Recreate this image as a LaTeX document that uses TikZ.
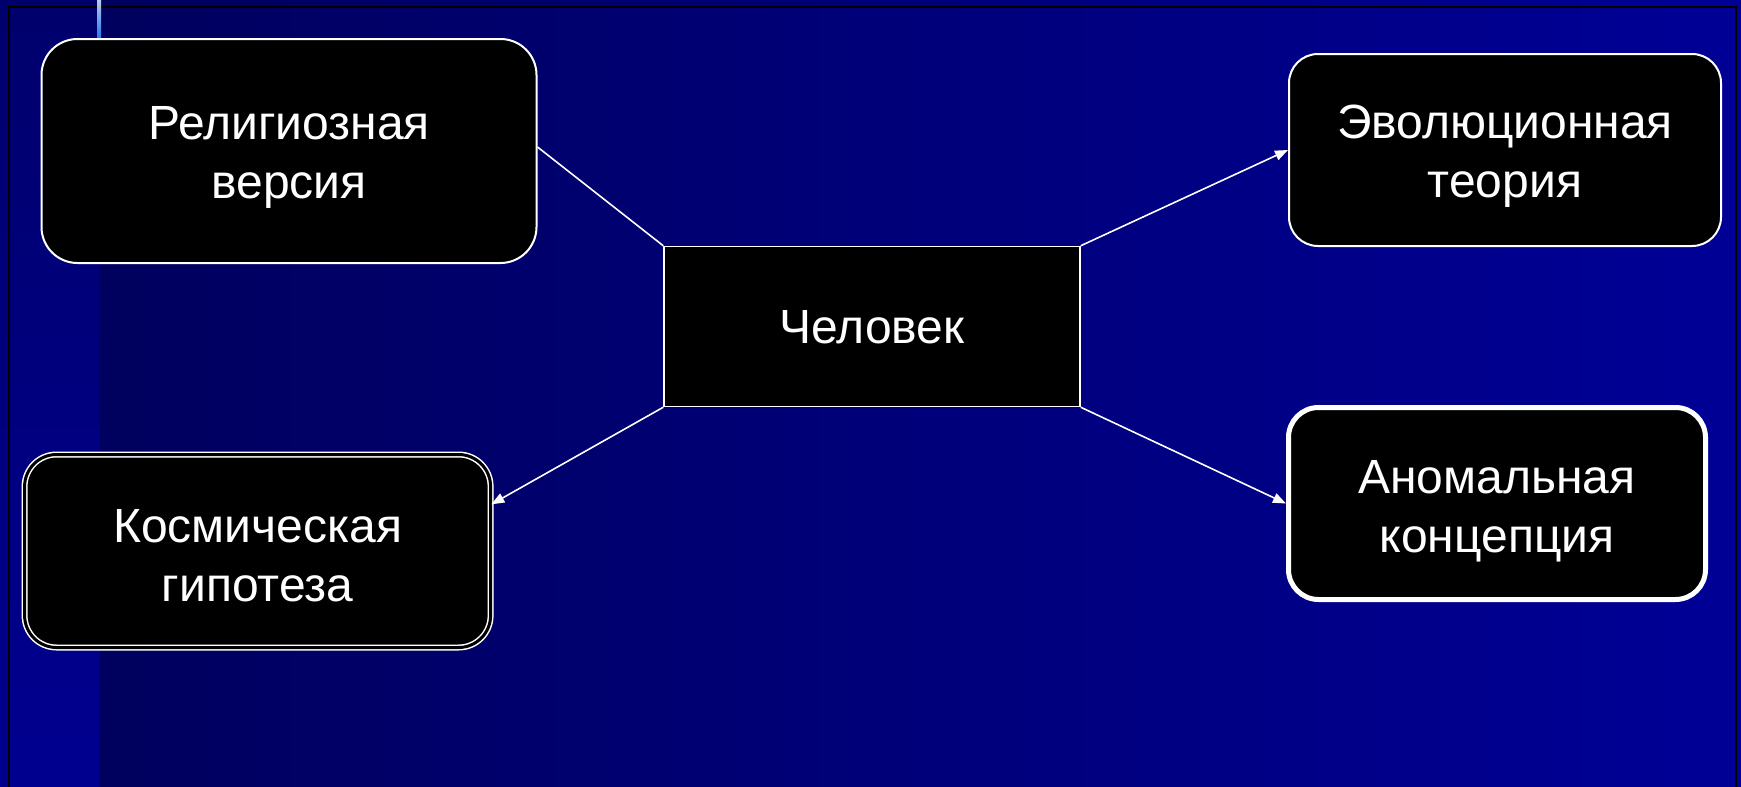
\documentclass[tikz,border=0pt]{standalone}
\usepackage{fontspec}
\setmainfont{Liberation Sans}
\usetikzlibrary{arrows.meta,calc}
\definecolor{bgleft}{HTML}{00005E}
\definecolor{bgright}{HTML}{000096}
\definecolor{stripetop}{HTML}{00006C}
\definecolor{stripebot}{HTML}{000090}
\definecolor{ltop}{HTML}{B8CCE8}
\definecolor{lbot}{HTML}{2A78F0}
\begin{document}
\begin{tikzpicture}[x=1pt,y=-1pt,
  box/.style={fill=black,draw=white,inner sep=0pt},
  txt/.style={text=white,align=center,inner sep=0pt,
    font=\fontsize{48}{59}\selectfont},
  link/.style={draw=white,line width=1.6pt},
  arr/.style={link,-{Triangle[length=13pt,width=10pt]}}]
\useasboundingbox (0,0) rectangle (1741,787);
% background
\shade[left color=bgleft,right color=bgright] (100,0) rectangle (1741,787);
\shade[top color=stripetop,bottom color=stripebot] (0,0) rectangle (100,787);
\draw[black,line width=2pt] (9,800) -- (9,7) -- (1736,7) -- (1736,800);
\shade[top color=ltop,bottom color=lbot] (97,0) rectangle (101,38);
% boxes
\node[box,rounded corners=36pt,line width=2pt,minimum width=495pt,minimum height=224pt]
  (rel) at (289,151) {};
\node[box,rounded corners=29pt,line width=2pt,minimum width=432pt,minimum height=192pt]
  (evo) at (1505,150) {};
\node[box,line width=1.5pt,minimum width=416pt,minimum height=160pt]
  (man) at (872,326.5) {};
\node[box,rounded corners=32pt,line width=1.5pt,double=black,double distance=3pt,
  minimum width=466pt,minimum height=193pt]
  (kos) at (257.6,551) {};
\node[box,rounded corners=30pt,line width=5pt,minimum width=417pt,minimum height=192pt]
  (ano) at (1497,503.5) {};
% texts
\node[txt] (relt) at ($(rel.center)+(0,6.5)$) {Религиозная\\версия};
\node[txt] (evot) at ($(evo.center)+(0,6)$) {Эволюционная\\теория};
\node[txt] (mant) at ($(man.center)+(0,1)$) {Человек};
\node[txt] (kost) at ($(kos.center)+(0,5)$) {Космическая\\гипотеза};
\node[txt] (anot) at ($(ano.center)+(0,8)$) {Аномальная\\концепция};
% connectors
\draw[link] ($(rel.east)+(0,-4)$) -- (man.north west);
\draw[arr] (man.north east) -- (evo.west);
\draw[arr] (man.south west) -- ($(kos.north east)!0.26!(kos.south east)$);
\draw[arr] (man.south east) -- (ano.west);
\end{tikzpicture}
\end{document}
